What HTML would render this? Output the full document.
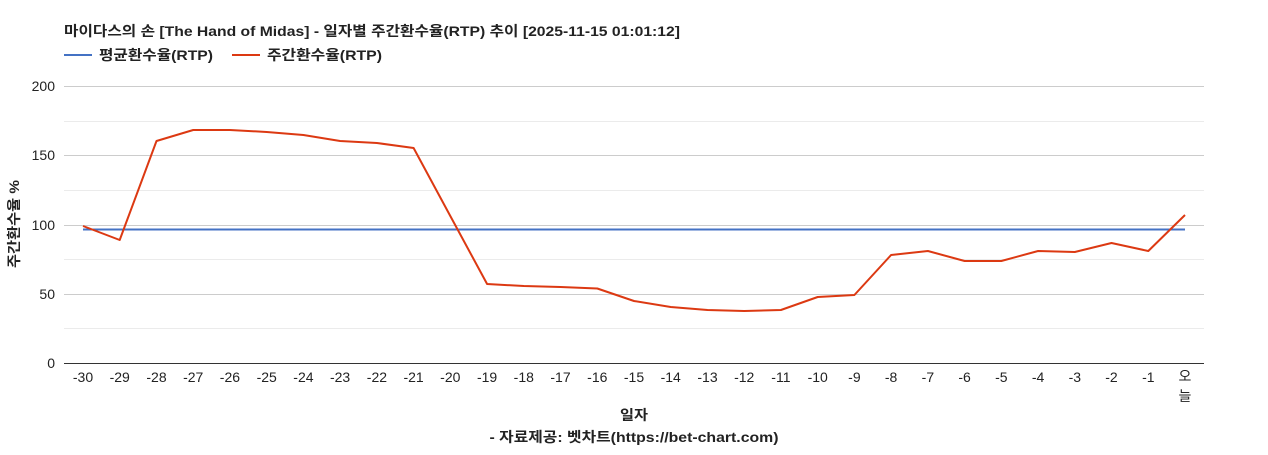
<!DOCTYPE html>
<html><head><meta charset="utf-8"><style>
body{margin:0;background:#fff;}
svg text{font-family:"Liberation Sans","Noto Sans CJK KR",sans-serif;}
</style></head><body>
<svg width="1268" height="450" xmlns="http://www.w3.org/2000/svg">
<rect width="1268" height="450" fill="#fff"/>
<text x="64" y="36" font-size="14" font-weight="bold" fill="#222" textLength="616" lengthAdjust="spacingAndGlyphs">마이다스의 손 [The Hand of Midas] - 일자별 주간환수율(RTP) 추이 [2025-11-15 01:01:12]</text>
<line x1="64" y1="55" x2="92" y2="55" stroke="#4472c4" stroke-width="2"/>
<text x="99" y="60" font-size="14" font-weight="bold" fill="#222" textLength="114" lengthAdjust="spacingAndGlyphs">평균환수율(RTP)</text>
<line x1="232" y1="55" x2="260" y2="55" stroke="#dc3912" stroke-width="2"/>
<text x="267" y="60" font-size="14" font-weight="bold" fill="#222" textLength="115" lengthAdjust="spacingAndGlyphs">주간환수율(RTP)</text>
<g stroke-width="1">
<line x1="64" x2="1204" y1="86.5" y2="86.5" stroke="#ccc"/>
<line x1="64" x2="1204" y1="121.5" y2="121.5" stroke="#ebebeb"/>
<line x1="64" x2="1204" y1="155.5" y2="155.5" stroke="#ccc"/>
<line x1="64" x2="1204" y1="190.5" y2="190.5" stroke="#ebebeb"/>
<line x1="64" x2="1204" y1="225.5" y2="225.5" stroke="#ccc"/>
<line x1="64" x2="1204" y1="259.5" y2="259.5" stroke="#ebebeb"/>
<line x1="64" x2="1204" y1="294.5" y2="294.5" stroke="#ccc"/>
<line x1="64" x2="1204" y1="328.5" y2="328.5" stroke="#ebebeb"/>
<line x1="64" x2="1204" y1="363.5" y2="363.5" stroke="#333"/>
</g>
<g font-size="14" fill="#222" text-anchor="end">
<text x="55" y="91">200</text><text x="55" y="160">150</text><text x="55" y="230">100</text><text x="55" y="299">50</text><text x="55" y="368">0</text>
</g>
<g font-size="14" fill="#222" text-anchor="middle">
<text x="83" y="382">-30</text><text x="119.7" y="382">-29</text><text x="156.5" y="382">-28</text><text x="193.2" y="382">-27</text><text x="229.9" y="382">-26</text><text x="266.7" y="382">-25</text><text x="303.4" y="382">-24</text><text x="340.1" y="382">-23</text><text x="376.9" y="382">-22</text><text x="413.6" y="382">-21</text><text x="450.3" y="382">-20</text><text x="487.1" y="382">-19</text><text x="523.8" y="382">-18</text><text x="560.5" y="382">-17</text><text x="597.3" y="382">-16</text><text x="634" y="382">-15</text><text x="670.7" y="382">-14</text><text x="707.5" y="382">-13</text><text x="744.2" y="382">-12</text><text x="780.9" y="382">-11</text><text x="817.7" y="382">-10</text><text x="854.4" y="382">-9</text><text x="891.1" y="382">-8</text><text x="927.9" y="382">-7</text><text x="964.6" y="382">-6</text><text x="1001.3" y="382">-5</text><text x="1038.1" y="382">-4</text><text x="1074.8" y="382">-3</text><text x="1111.5" y="382">-2</text><text x="1148.3" y="382">-1</text><text x="1185" y="381">오</text><text x="1185" y="401">늘</text>
<text x="634" y="420" font-weight="bold" textLength="28" lengthAdjust="spacingAndGlyphs">일자</text>
<text x="634" y="442" font-weight="bold" textLength="289" lengthAdjust="spacingAndGlyphs">- 자료제공: 벳차트(https://bet-chart.com)</text>
</g>
<text transform="translate(19,224) rotate(-90)" font-size="14" font-weight="bold" fill="#222" text-anchor="middle" textLength="88" lengthAdjust="spacingAndGlyphs">주간환수율 %</text>
<line x1="83" y1="229.5" x2="1185" y2="229.5" stroke="#4472c4" stroke-width="2"/>
<polyline fill="none" stroke="#dc3912" stroke-width="2" stroke-linejoin="round" points="83,226 119.7,240 156.5,141 193.2,130 229.9,130 266.7,132 303.4,135 340.1,141 376.9,143 413.6,148 450.3,216 487.1,284 523.8,286 560.5,287 597.3,288.5 634,301 670.7,307 707.5,310 744.2,311 780.9,310 817.7,297 854.4,295 891.1,255 927.9,251 964.6,261 1001.3,261 1038.1,251 1074.8,252 1111.5,243 1148.3,251 1185,215"/>
</svg>
</body></html>
